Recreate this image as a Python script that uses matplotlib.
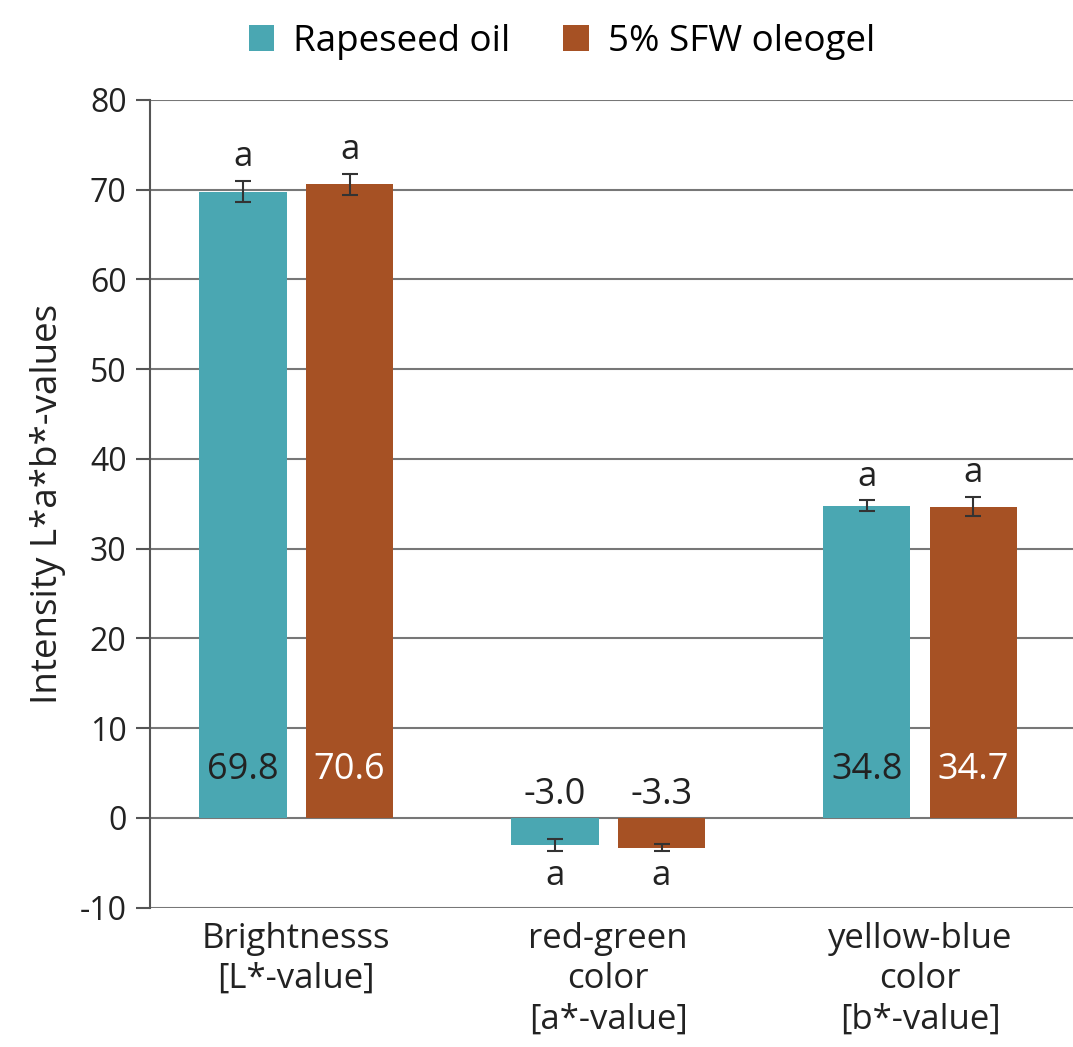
import matplotlib
matplotlib.use('Agg')
import matplotlib.pyplot as plt
import numpy as np

plt.rcParams['font.family'] = ['Open Sans', 'DejaVu Sans']
plt.rcParams['axes.unicode_minus'] = False

categories = ['Brightnesss\n[L*-value]', 'red-green\ncolor\n[a*-value]', 'yellow-blue\ncolor\n[b*-value]']
oil_vals = [69.8, -3.0, 34.8]
oleo_vals = [70.6, -3.3, 34.7]
oil_err = [1.2, 0.7, 0.6]
oleo_err = [1.2, 0.4, 1.1]
oil_letters = ['a', 'a', 'a']
oleo_letters = ['a', 'a', 'a']
series_names = ['Rapeseed oil', '5% SFW oleogel']

teal = '#4aa7b2'
brown = '#a65124'
txt = '#222222'

fig = plt.figure(figsize=(10.73, 10.47), dpi=100)
ax = fig.add_axes([0.14, 0.133, 0.86, 0.7715])

x = np.arange(len(categories))
w = 0.28
off = 0.171

ax.bar(x - off, oil_vals, w, color=teal, label=series_names[0], zorder=2)
ax.bar(x + off, oleo_vals, w, color=brown, label=series_names[1], zorder=2)
ax.errorbar(x - off, oil_vals, yerr=oil_err, fmt='none', ecolor='#333333',
            elinewidth=1.5, capsize=6, capthick=1.5, zorder=3)
ax.errorbar(x + off, oleo_vals, yerr=oleo_err, fmt='none', ecolor='#333333',
            elinewidth=1.5, capsize=6, capthick=1.5, zorder=3)

# values and significance letters
for xs, vals, errs, lets, tc in [(x - off, oil_vals, oil_err, oil_letters, txt),
                                 (x + off, oleo_vals, oleo_err, oleo_letters, 'white')]:
    for xi, v, e, l in zip(xs, vals, errs, lets):
        if v > 0:
            ax.text(xi, 5.3, '%.1f' % v, ha='center', va='center', fontsize=26, color=tc, zorder=4)
            ax.text(xi, v + e + 0.7, l, ha='center', va='bottom', fontsize=25, color=txt)
        else:
            ax.text(xi, 2.6, '%.1f' % v, ha='center', va='center', fontsize=26, color=txt)
            ax.text(xi, -3.7 - 0.9, l, ha='center', va='top', fontsize=25, color=txt)

ax.set_xlim(-0.468, 2.49)
ax.set_ylim(-10, 80)
ax.set_yticks(np.arange(-10, 81, 10))
ax.yaxis.grid(True, color='#777777', linewidth=1.5, zorder=0)
ax.set_axisbelow(True)
for s in ['top', 'right', 'bottom']:
    ax.spines[s].set_visible(False)
ax.spines['left'].set_color('#555555')
ax.spines['left'].set_linewidth(1.5)
ax.tick_params(axis='y', length=10, width=1.5, color='#555555', labelsize=23, pad=7, labelcolor=txt)
ax.set_xticks(x)
ax.set_xticklabels(categories, fontsize=25, color=txt, linespacing=1.25)
ax.tick_params(axis='x', length=0, pad=10)
ax.set_ylabel('Intensity L*a*b*-values', fontsize=26.5, color=txt, labelpad=10)

ax.legend(loc='upper center', bbox_to_anchor=(0.446, 1.135), ncol=2, frameon=False,
          fontsize=26.5, handlelength=0.7, handleheight=0.7, columnspacing=1.45, handletextpad=0.5)

fig.savefig('out.png', dpi=100)
